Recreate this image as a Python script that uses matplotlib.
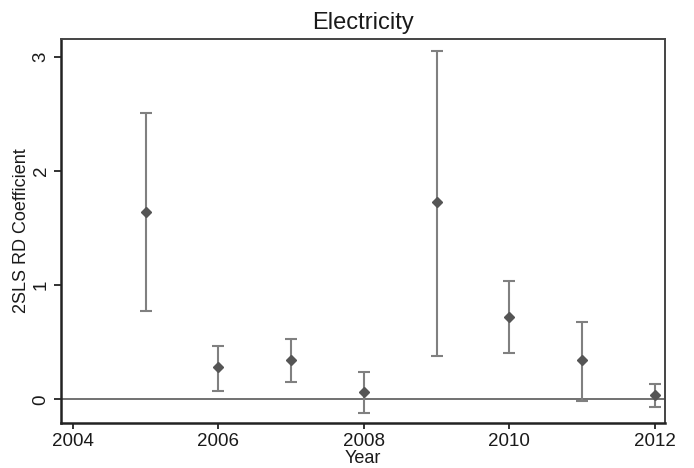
import numpy as np
import matplotlib
matplotlib.use("Agg")
import matplotlib.pyplot as plt

plt.rcParams['font.family'] = ['Liberation Sans', 'DejaVu Sans']

# 2SLS RD estimates by year with confidence bounds
years = [2005, 2006, 2007, 2008, 2009, 2010, 2011, 2012]
coef = [1.643, 0.281, 0.345, 0.067, 1.731, 0.725, 0.345, 0.038]
ci_low = [0.772, 0.073, 0.149, -0.117, 0.380, 0.403, -0.012, -0.065]
ci_high = [2.514, 0.468, 0.529, 0.240, 3.058, 1.040, 0.681, 0.137]

xticks = [2004, 2006, 2008, 2010, 2012]
yticks = [0, 1, 2, 3]

fig = plt.figure(figsize=(6.94, 4.68), dpi=100)
ax = fig.add_axes([0.0875, 0.0962, 0.8705, 0.8205])

coef = np.array(coef)
err = np.vstack([coef - np.array(ci_low), np.array(ci_high) - coef])

ax.axhline(0, color='#666666', lw=1.3, zorder=1)
ax.errorbar(years, coef, yerr=err, fmt='none', ecolor='#808080',
            elinewidth=1.5, capsize=4.5, capthick=1.5, zorder=2)
ax.plot(years, coef, 'D', color='#555555', ms=4.6, mec='#555555', zorder=3)

ax.set_xlim(2003.835, 2012.137)
ax.set_ylim(-0.208, 3.16)
ax.set_xticks(xticks)
ax.set_yticks(yticks)
ax.set_yticklabels([str(t) for t in yticks], rotation=90, va='center')

ax.tick_params(axis='both', direction='out', labelsize=13.5, width=1.3,
               color='#222222', labelcolor='#1a1a1a')
ax.tick_params(axis='x', length=4, pad=3)
ax.tick_params(axis='y', length=5, pad=3)

for side in ['left', 'bottom']:
    ax.spines[side].set_linewidth(1.8)
    ax.spines[side].set_color('#222222')
for side in ['top', 'right']:
    ax.spines[side].set_linewidth(1.4)
    ax.spines[side].set_color('#444444')

ax.set_title('Electricity', fontsize=17, pad=7, color='#1a1a1a')
ax.set_ylabel('2SLS RD Coefficient', fontsize=13, labelpad=2, color='#1a1a1a')
ax.set_xlabel('Year', fontsize=13, labelpad=0, color='#1a1a1a')

fig.savefig('out.png', dpi=100)
